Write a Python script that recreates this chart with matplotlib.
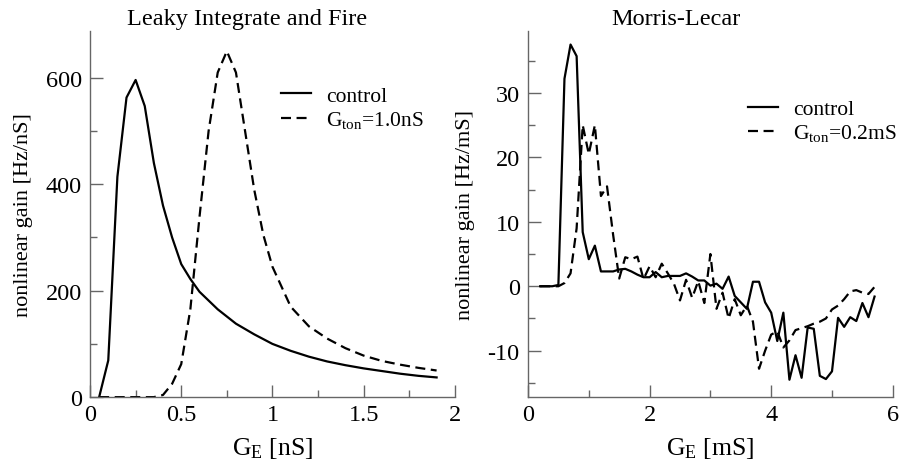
import matplotlib
matplotlib.use("Agg")
from matplotlib import pyplot as plt
from matplotlib.ticker import MultipleLocator

# Leaky integrate and fire, G_E in nS
lif_control_x = [0.05, 0.1, 0.15, 0.2, 0.25, 0.3, 0.35, 0.4, 0.45, 0.5, 0.55, 0.6,
                 0.7, 0.8, 0.9, 1.0, 1.1, 1.2, 1.3, 1.4, 1.5, 1.6, 1.7, 1.8, 1.9]
lif_control_y = [0, 69, 414, 563, 596, 547, 440, 360, 300, 250, 222, 198,
                 165, 138, 118, 100, 87, 76, 67, 60, 54, 49, 44, 40, 37]
lif_ton_x = [0.05, 0.35, 0.4, 0.45, 0.5, 0.55, 0.6, 0.65, 0.7, 0.75, 0.8, 0.85,
             0.9, 0.95, 1.0, 1.1, 1.2, 1.3, 1.4, 1.5, 1.6, 1.7, 1.8, 1.9]
lif_ton_y = [0, 0, 4, 25, 62, 165, 338, 500, 610, 650, 610, 500,
             390, 305, 245, 170, 133, 110, 92, 78, 68, 61, 55, 50]

# Morris-Lecar, G_E in mS
ml_x = [0.2, 0.3, 0.4, 0.5, 0.6, 0.7, 0.8, 0.9, 1.0, 1.1, 1.2, 1.3, 1.4, 1.5,
        1.6, 1.7, 1.8, 1.9, 2.0, 2.1, 2.2, 2.3, 2.4, 2.5, 2.6, 2.7, 2.8, 2.9,
        3.0, 3.1, 3.2, 3.3, 3.4, 3.5, 3.6, 3.7, 3.8, 3.9, 4.0, 4.1, 4.2, 4.3,
        4.4, 4.5, 4.6, 4.7, 4.8, 4.9, 5.0, 5.1, 5.2, 5.3, 5.4, 5.5, 5.6, 5.7]
ml_control_y = [0, 0, 0, 0.2, 32.2, 37.5, 35.7, 8.4, 4.2, 6.3, 2.3, 2.3, 2.3, 2.6,
                2.7, 2.3, 1.8, 1.4, 1.4, 2.2, 1.4, 1.6, 1.6, 1.6, 2.0, 1.5, 0.9, 0.9,
                0.1, 0.4, -0.4, 1.5, -1.5, -2.5, -3.5, 0.7, 0.7, -2.5, -4.1, -8.5, -4.1, -14.5,
                -10.7, -14.2, -6.4, -6.6, -13.9, -14.4, -13.2, -4.9, -6.3, -4.8, -5.4, -2.6, -4.8, -1.6]
ml_ton_y = [0, 0, 0, 0, 0.5, 2.0, 9.0, 25.0, 20.5, 25.0, 14.0, 15.5, 8.0, 1.2,
            4.5, 4.2, 4.6, 1.1, 3.1, 1.4, 3.5, 2.0, 0.4, -2.2, 1.0, -1.8, 0.8, -2.6,
            5.0, -3.5, -1.0, -5.0, -2.0, -4.5, -3.0, -5.5, -12.8, -10.0, -7.5, -7.0, -9.5, -8.4,
            -6.8, -6.5, -6.2, -5.8, -5.5, -5.0, -3.6, -3.0, -2.0, -0.8, -0.6, -1.0, -1.2, -0.1]

plt.rcParams['font.family'] = 'Liberation Serif'
plt.rcParams['mathtext.fontset'] = 'custom'
plt.rcParams['mathtext.rm'] = 'Liberation Serif'
plt.rcParams['mathtext.it'] = 'Liberation Serif:italic'
plt.rcParams['axes.unicode_minus'] = False

AXIS_GREY = '#666666'
DASH = (0, (4.5, 2.5))
LW = 1.6


def style_axes(ax):
    '''
    Grace-like axes: left and bottom spines only, ticks pointing inward
    '''
    for side in ['top', 'right']:
        ax.spines[side].set_visible(False)
    for side in ['left', 'bottom']:
        ax.spines[side].set_color(AXIS_GREY)
        ax.spines[side].set_linewidth(1.0)
    ax.tick_params(which='both', direction='in', color=AXIS_GREY, labelsize=17.5)
    ax.tick_params(axis='y', pad=6)
    ax.tick_params(axis='x', pad=5)
    ax.tick_params(which='major', length=9, width=1.0)
    ax.tick_params(which='minor', length=5, width=1.0)


def add_legend(ax, x, y):
    ax.legend(frameon=False, loc='upper left', bbox_to_anchor=(x, y),
              borderpad=0, borderaxespad=0, fontsize=15.5, handlelength=1.4,
              handletextpad=0.7, labelspacing=0.15)


fig = plt.figure(figsize=(9.03, 4.64), dpi=100)

ax1 = fig.add_axes([0.0997, 0.142, 0.404, 0.789])
ax1.plot(lif_control_x, lif_control_y, color='black', lw=LW, label='control')
ax1.plot(lif_ton_x, lif_ton_y, color='black', lw=LW, linestyle=DASH,
         label=r'G$_\mathrm{ton}$=1.0nS')
ax1.set_xlim(0, 2)
ax1.set_ylim(0, 688)
ax1.xaxis.set_minor_locator(MultipleLocator(0.25))
ax1.yaxis.set_major_locator(MultipleLocator(200))
ax1.yaxis.set_minor_locator(MultipleLocator(100))
ax1.set_xticks([0, 0.5, 1, 1.5, 2], ['0', '0.5', '1', '1.5', '2'])
style_axes(ax1)
ax1.set_xlabel(r'G$_\mathrm{E}$ [nS]', fontsize=18.5, labelpad=7)
ax1.set_ylabel('nonlinear gain [Hz/nS]', fontsize=16)
ax1.yaxis.set_label_coords(-0.156, 0.5)
ax1.set_title('Leaky Integrate and Fire', fontsize=17.5, x=0.431, pad=5)
add_legend(ax1, 0.523, 0.85)

ax2 = fig.add_axes([0.5847, 0.142, 0.404, 0.789])
ax2.plot(ml_x, ml_control_y, color='black', lw=LW, label='control')
ax2.plot(ml_x, ml_ton_y, color='black', lw=LW, linestyle=DASH,
         label=r'G$_\mathrm{ton}$=0.2mS')
ax2.set_xlim(0, 6)
ax2.set_ylim(-17.2, 39.6)
ax2.xaxis.set_major_locator(MultipleLocator(2))
ax2.xaxis.set_minor_locator(MultipleLocator(1))
ax2.yaxis.set_major_locator(MultipleLocator(10))
ax2.yaxis.set_minor_locator(MultipleLocator(5))
style_axes(ax2)
ax2.set_xlabel(r'G$_\mathrm{E}$ [mS]', fontsize=18.5, labelpad=7)
ax2.set_ylabel('nonlinear gain [Hz/mS]', fontsize=16)
ax2.yaxis.set_label_coords(-0.145, 0.5)
ax2.set_title('Morris-Lecar', fontsize=17.5, x=0.405, pad=5)
add_legend(ax2, 0.603, 0.814)

fig.savefig('out.png', dpi=100)
